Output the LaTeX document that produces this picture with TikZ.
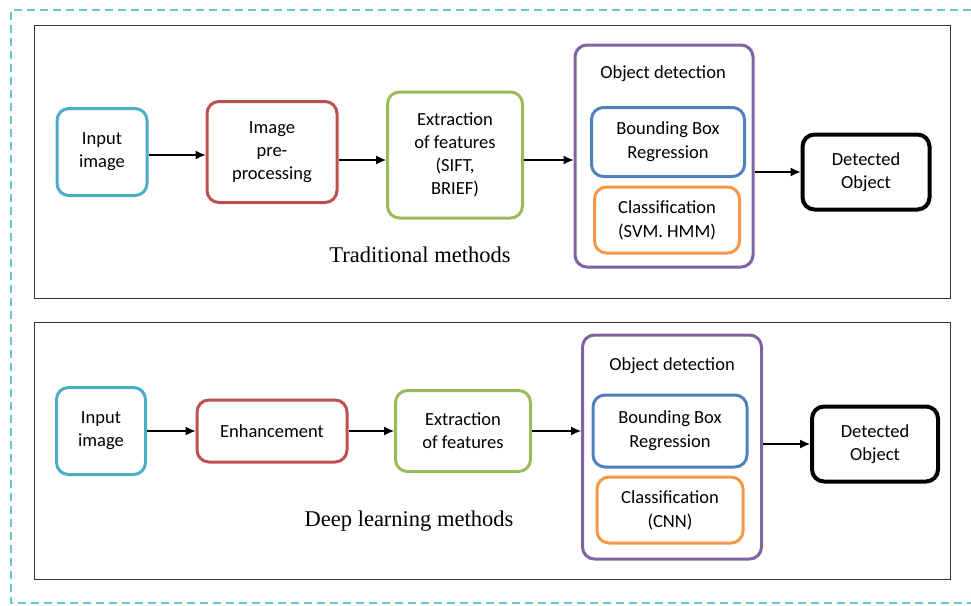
\documentclass[tikz,border=0pt]{standalone}
\usepackage{fontspec}
\setmainfont{Carlito}
\newfontfamily\capfont{Liberation Serif}
\usetikzlibrary{arrows.meta}
\definecolor{incyan}{HTML}{4BACC6}
\definecolor{dashcyan}{HTML}{6CC4D8}
\definecolor{prered}{HTML}{C0504D}
\definecolor{featgreen}{HTML}{9BBB59}
\definecolor{odpurple}{HTML}{8064A2}
\definecolor{bbblue}{HTML}{4F81BD}
\definecolor{clorange}{HTML}{F79646}

\begin{document}
\begin{tikzpicture}[x=1pt, y=-1pt,
    box/.style={draw, rounded corners=12pt, line width=3pt, align=center, inner sep=0pt,
                font=\fontsize{18.5}{23}\selectfont},
    txt/.style={font=\fontsize{18.5}{23}\selectfont},
    methods/.style={font=\capfont\fontsize{22.5}{26}\selectfont},
    link/.style={-{Latex[length=10pt,width=9pt]}, line width=1.2pt}]

    \useasboundingbox (0,0) rectangle (971,605);

    % outer frame and the two panels
    \draw[dashcyan, line width=1.5pt, dash pattern=on 8pt off 5pt] (971,10) -- (11,10) -- (11,603) -- (971,603);
    \draw[line width=1pt, black!80] (34,25) rectangle (950,298);
    \draw[line width=1pt, black!80] (34,322) rectangle (950,579);

    % traditional methods
    \node[box, draw=incyan, minimum width=90pt, minimum height=87pt] (in1) at (102,152) {Input\\image};
    \node[box, draw=prered, minimum width=130pt, minimum height=101pt] (pre1) at (272,152) {Image\\pre-\\processing};
    \node[box, draw=featgreen, minimum width=135pt, minimum height=126pt] (feat1) at (455,155) {Extraction\\of features\\(SIFT,\\BRIEF)};
    \node[box, draw=odpurple, minimum width=178pt, minimum height=222pt] (od1) at (664,156) {};
    \node[txt] (odt1) at (663,74) {Object detection};
    \node[box, draw=bbblue, minimum width=153pt, minimum height=69pt] (bb1) at (668,142) {Bounding Box\\[1pt]Regression};
    \node[box, draw=clorange, minimum width=145pt, minimum height=66pt] (cl1) at (667,220) {Classification\\[1pt](SVM. HMM)};
    \node[box, draw=black, line width=4pt, minimum width=127pt, minimum height=75pt] (det1) at (866,172) {Detected\\Object};
    \node[methods] (lab1) at (420,255) {Traditional methods};

    \draw[link] ([yshift=-3pt]in1.east) -- ([yshift=-3pt]in1.east -| pre1.west);
    \draw[link] ([yshift=-8pt]pre1.east) -- ([yshift=-8pt]pre1.east -| feat1.west);
    \draw[link] ([yshift=-5pt]feat1.east) -- ([yshift=-5pt]feat1.east -| od1.west);
    \draw[link] (od1.east |- det1.west) -- (det1.west);

    % deep learning methods
    \node[box, draw=incyan, minimum width=89pt, minimum height=87pt] (in2) at (101,431) {Input\\image};
    \node[box, draw=prered, minimum width=150pt, minimum height=62pt] (enh2) at (272,431) {Enhancement};
    \node[box, draw=featgreen, minimum width=135pt, minimum height=81pt] (feat2) at (463,431) {Extraction\\of features};
    \node[box, draw=odpurple, minimum width=179pt, minimum height=224pt] (od2) at (672,447) {};
    \node[txt] (odt2) at (672,366) {Object detection};
    \node[box, draw=bbblue, minimum width=154pt, minimum height=72pt] (bb2) at (670,431) {Bounding Box\\[1pt]Regression};
    \node[box, draw=clorange, minimum width=146pt, minimum height=66pt] (cl2) at (670,510) {Classification\\[1pt](CNN)};
    \node[box, draw=black, line width=4pt, minimum width=126pt, minimum height=75pt] (det2) at (875,444) {Detected\\Object};
    \node[methods] (lab2) at (409,521) {Deep learning methods};

    \draw[link] (in2.east) -- (in2.east -| enh2.west);
    \draw[link] (enh2.east) -- (enh2.east -| feat2.west);
    \draw[link] (feat2.east) -- (feat2.east -| od2.west);
    \draw[link] (od2.east |- det2.west) -- (det2.west);
\end{tikzpicture}
\end{document}
